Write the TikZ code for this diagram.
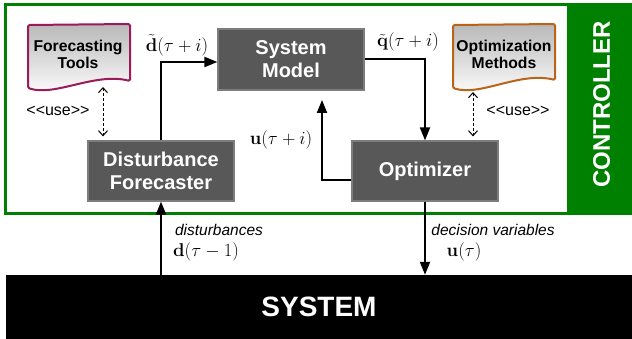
\RequirePackage{fix-cm}
\documentclass[tikz,border=0pt]{standalone}
\usepackage[no-math]{fontspec}
\setmainfont{Liberation Sans}
\usetikzlibrary{arrows.meta}
\definecolor{ctrlgreen}{RGB}{0,128,0}
\definecolor{boxfill}{RGB}{88,88,88}
\definecolor{boxline}{RGB}{125,125,125}
\definecolor{ftline}{RGB}{155,27,90}
\definecolor{omline}{RGB}{184,101,27}
\tikzset{
  blk/.style={draw=boxline, fill=boxfill, line width=1.2pt, minimum width=146pt,
    minimum height=61pt, text=white, font=\fontsize{20}{23}\selectfont\bfseries,
    align=center, inner sep=0pt},
  flow/.style={line width=2pt, -{Triangle[length=13pt,width=10pt]}},
  usearrow/.style={line width=1pt, dash pattern=on 3pt off 2pt,
    {Straight Barb[length=5pt,width=9pt]}-{Straight Barb[length=5pt,width=9pt]}},
  lbl/.style={font=\fontsize{15.5}{18}\selectfont\itshape, inner sep=0pt},
  mlbl/.style={font=\fontsize{18.5}{22}\selectfont, inner sep=0pt},
  uselbl/.style={font=\fontsize{16}{19}\selectfont, inner sep=0pt},
  doctext/.style={font=\fontsize{15.7}{17}\selectfont\bfseries, align=center, inner sep=0pt},
  docshape/.style={line width=2pt, rounded corners=1.5pt, top color=gray!55, bottom color=white}
}
\begin{document}
\begin{tikzpicture}[x=1pt,y=-1pt]
\useasboundingbox (0,0) rectangle (632,339);
% controller frame
\fill[ctrlgreen] (4,3) rectangle (632,215.5);
\fill[white] (7,6) rectangle (567,212);
\node[rotate=90, text=white, font=\fontsize{24}{28}\selectfont\bfseries, inner sep=0pt] (ctrl) at (601.5,104.5) {CONTROLLER};
% system
\node[fill=black, minimum width=626pt, minimum height=64pt, inner sep=0pt,
      text=white, font=\fontsize{28}{32}\selectfont\bfseries] (system) at (319,307) {SYSTEM};
% documents
\draw[docshape, draw=ftline] (28,88) -- (28,25) -- (130,24) -- (130,81)
   .. controls (95,72) and (55,97) .. (28,88) -- cycle;
\node[doctext] (ftools) at (78,54) {Forecasting\\Tools};
\draw[docshape, draw=omline] (453,88) -- (453,25) -- (555,24) -- (555,80)
   .. controls (520,71) and (480,97) .. (453,88) -- cycle;
\node[doctext] (omethods) at (504,54) {Optimization\\Methods};
% blocks
\node[blk] (model) at (291,59.5) {System\\Model};
\node[blk, minimum height=60pt] (forecaster) at (161,171) {Disturbance\\Forecaster};
\node[blk, minimum height=60pt] (optimizer) at (425,171) {Optimizer};
% flows
\draw[flow] (forecaster.north) |- ([yshift=-2.5pt]model.west);
\draw[flow] (model.east) -| (optimizer.north);
\coordinate (ufb) at (322,100);
\draw[flow] ([yshift=-9pt]optimizer.west) -| (ufb);
\draw[flow] (optimizer.south) -- (optimizer.south |- system.north);
\draw[flow] (system.north -| forecaster.south) -- (forecaster.south);
% use arrows
\coordinate (ftb) at (103,87);
\draw[usearrow, shorten >=4pt] (ftb) -- (ftb |- forecaster.north);
\coordinate (omb) at (473,92);
\draw[usearrow, shorten >=4pt] (omb) -- (omb |- optimizer.north);
% labels
\node[mlbl] (ldt) at (177,45) {$\tilde{\mathbf{d}}(\tau+i)$};
\node[mlbl] (lqt) at (408,42) {$\tilde{\mathbf{q}}(\tau+i)$};
\node[mlbl] (lu) at (281,140) {$\mathbf{u}(\tau+i)$};
\node[lbl] (ldist) at (219,230) {disturbances};
\node[mlbl] (ld) at (206,252) {$\mathbf{d}(\tau-1)$};
\node[lbl] (ldec) at (493,230) {decision variables};
\node[mlbl] (lu2) at (464,252) {$\mathbf{u}(\tau)$};
\node[uselbl] (use1) at (58,111) {<\kern0pt<use>\kern0pt>};
\node[uselbl] (use2) at (518,111) {<\kern0pt<use>\kern0pt>};
\end{tikzpicture}
\end{document}
